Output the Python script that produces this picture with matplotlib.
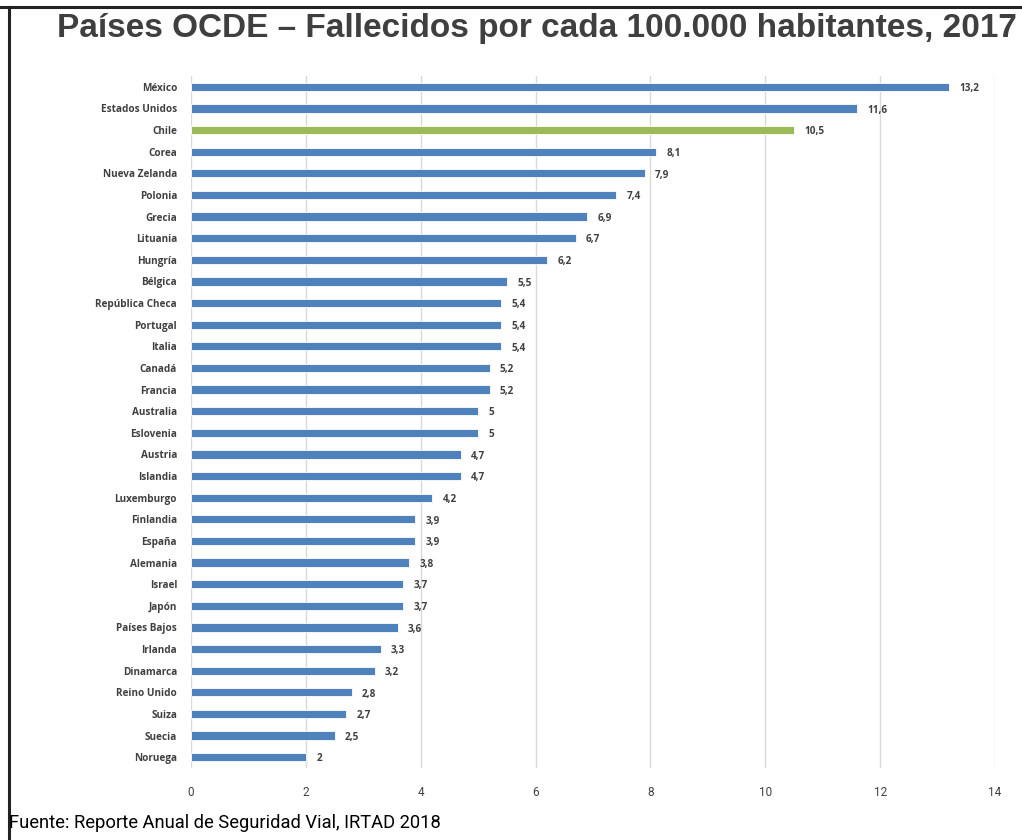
import matplotlib.pyplot as plt
from matplotlib.lines import Line2D

paises = [
    "México", "Estados Unidos", "Chile", "Corea", "Nueva Zelanda", "Polonia",
    "Grecia", "Lituania", "Hungría", "Bélgica", "República Checa", "Portugal",
    "Italia", "Canadá", "Francia", "Australia", "Eslovenia", "Austria",
    "Islandia", "Luxemburgo", "Finlandia", "España", "Alemania", "Israel",
    "Japón", "Países Bajos", "Irlanda", "Dinamarca", "Reino Unido", "Suiza",
    "Suecia", "Noruega",
]
fallecidos = [
    13.2, 11.6, 10.5, 8.1, 7.9, 7.4, 6.9, 6.7, 6.2, 5.5, 5.4, 5.4,
    5.4, 5.2, 5.2, 5, 5, 4.7, 4.7, 4.2, 3.9, 3.9, 3.8, 3.7,
    3.7, 3.6, 3.3, 3.2, 2.8, 2.7, 2.5, 2,
]
x_ticks = [0, 2, 4, 6, 8, 10, 12, 14]

blue = "#4F81BD"
green = "#9BBB59"
text_gray = "#404040"
cond = ["Roboto", "DejaVu Sans"]

plt.rcParams["font.family"] = ["Open Sans", "DejaVu Sans"]

fig = plt.figure(figsize=(10.22, 8.4), dpi=100)
W, H = 1022, 840
ax = fig.add_axes([191 / W, 1 - 768 / H, (995 - 191) / W, (768 - 76) / H])

colors = [green if p == "Chile" else blue for p in paises]
ypos = list(range(len(paises)))
ax.barh(ypos, fallecidos, height=0.38, color=colors, edgecolor="white", linewidth=0.6, zorder=3)

for y, v in zip(ypos, fallecidos):
    label = f"{v:g}".replace(".", ",")
    ax.text(v + 0.18, y + 0.08, label, va="center", ha="left", fontsize=7.2,
            fontweight="bold", color=text_gray, zorder=4)

ax.set_ylim(len(paises) - 0.5, -0.5)
ax.set_xlim(0, 14)
ax.set_yticks(ypos)
ax.set_yticklabels(paises, fontsize=7.2, fontweight="bold", color=text_gray)
ax.set_xticks(x_ticks)
ax.set_xticklabels([str(t) for t in x_ticks], fontsize=8.5, color=text_gray, family=cond)
ax.tick_params(axis="both", length=0)
ax.tick_params(axis="y", pad=10)
ax.tick_params(axis="x", pad=13)
ax.grid(axis="x", color="#D9D9D9", linewidth=1, zorder=0)
for s in ax.spines.values():
    s.set_visible(False)

fig.text(57 / W, 1 - 28 / H, "Países OCDE – Fallecidos por cada 100.000 habitantes, 2017",
         fontsize=24, fontweight="bold", color="#3F3F3F", va="center", ha="left",
         family=["Liberation Sans", "DejaVu Sans"])

fig.text(9 / W, 1 - 823 / H, "Fuente: Reporte Anual de Seguridad Vial, IRTAD 2018",
         fontsize=13.2, color="black", va="center", ha="left", family=cond)

# marco del recorte
fig.add_artist(Line2D([0, 1], [1 - 7 / H, 1 - 7 / H], transform=fig.transFigure,
                      color="#222222", linewidth=2.2))
fig.add_artist(Line2D([9 / W, 9 / W], [0, 1 - 7 / H], transform=fig.transFigure,
                      color="#222222", linewidth=2.2))

fig.savefig("out.png", dpi=100)
